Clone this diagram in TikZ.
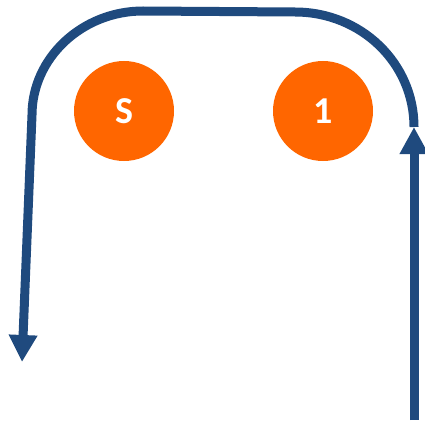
\documentclass[tikz,border=0pt]{standalone}
\usepackage{fontspec}
\setmainfont{Carlito}
\usetikzlibrary{arrows.meta, positioning}
\definecolor{routeblue}{HTML}{1F4A7E}
\definecolor{spotorange}{HTML}{FF6600}

\begin{document}
\begin{tikzpicture}[x=1pt,y=-1pt,on grid,
      spot/.style={circle,fill=spotorange,minimum size=100pt,inner sep=0pt,
                   text=white,font=\fontsize{38}{40}\selectfont\bfseries},
      route/.style={draw=routeblue,line width=9pt,-{Triangle[width=27pt,length=27pt]}}]
      \useasboundingbox (0,0) rectangle (424,425);

      \node[spot] (s) at (124,111) {S};
      \node[spot] (one) [right=199pt of s] {1};

      \coordinate (start) at (414,420);
      \coordinate (turn) at (414,127);
      \coordinate (top_r) at (295,12);
      \coordinate (top_l) at (143,11);
      \coordinate (side_l) at (32,115);
      \coordinate (stop) at (22,362);

      \draw[route] (start) -- (turn);
      \draw[route] (turn) .. controls (414,63) and (361,12) .. (top_r)
            -- (top_l) .. controls (82,11) and (32,58) .. (side_l)
            -- (stop);
    \end{tikzpicture}
\end{document}
